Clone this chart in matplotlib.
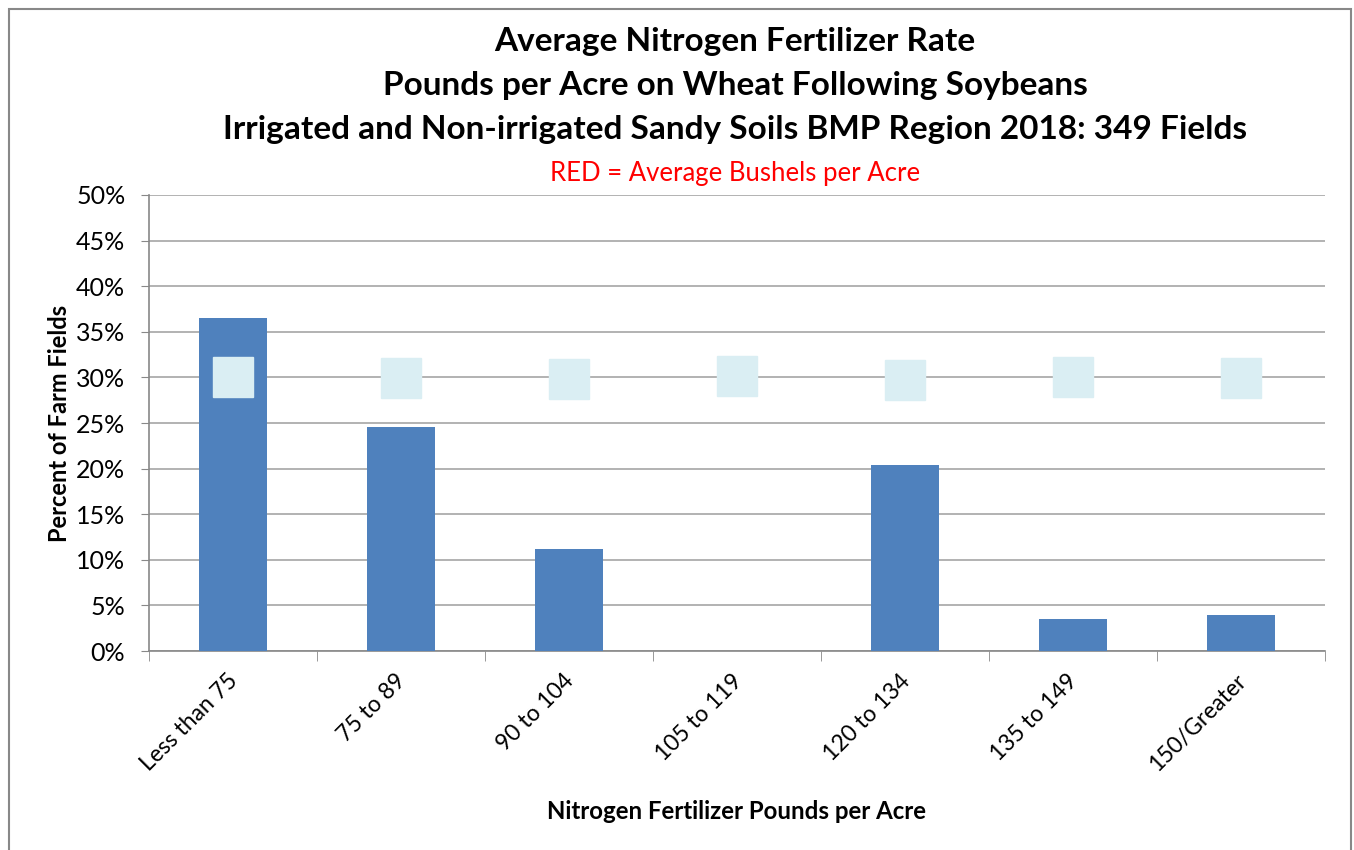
import matplotlib
matplotlib.use("Agg")
import matplotlib.pyplot as plt
from matplotlib.ticker import FixedLocator, PercentFormatter
from matplotlib.patches import Rectangle
from matplotlib.transforms import ScaledTranslation

categories = ["Less than 75", "75 to 89", "90 to 104", "105 to 119",
              "120 to 134", "135 to 149", "150/Greater"]
pct_fields = [36.5, 24.6, 11.2, 0.0, 20.4, 3.5, 4.0]
# light-blue label boxes (bushel labels, text not legible in the source)
box_level = [30.0, 29.9, 29.8, 30.1, 29.7, 30.0, 29.9]
y_ticks = [0, 5, 10, 15, 20, 25, 30, 35, 40, 45, 50]

plt.rcParams["font.family"] = ["Lato", "DejaVu Sans"]

fig = plt.figure(figsize=(13.54, 8.5), dpi=100)
ax = fig.add_axes([0.110, 0.2341, 0.8686, 0.5365])

x = list(range(len(categories)))
ax.bar(x, pct_fields, width=0.4, color="#4F81BD", zorder=3)
ax.plot(x, box_level, linestyle="none", marker="s", markersize=29,
        markerfacecolor="#DAEEF3", markeredgecolor="#DAEEF3", zorder=4)

ax.set_xlim(-0.5, len(categories) - 0.5)
ax.set_ylim(0, 50)
ax.set_yticks(y_ticks)
ax.yaxis.set_major_formatter(PercentFormatter(decimals=0))
ax.set_xticks(x)
ax.set_xticklabels(categories, rotation=45, ha="right", rotation_mode="anchor",
                   fontsize=16.5)
ax.xaxis.set_minor_locator(FixedLocator([i - 0.5 for i in range(len(categories) + 1)]))
ax.tick_params(axis="x", which="major", length=0, pad=14)
ax.tick_params(axis="x", which="minor", length=7, color="#888888", direction="out")
ax.tick_params(axis="y", length=6, color="#888888", labelsize=18, pad=11)
# nudge the slanted labels left, as in the source
shift = ScaledTranslation(-0.06, 0, fig.dpi_scale_trans)
for lab in ax.get_xticklabels():
    lab.set_transform(lab.get_transform() + shift)
ax.grid(axis="y", color="#A6A6A6", linewidth=1.2, zorder=0)
for s in ["top", "right"]:
    ax.spines[s].set_visible(False)
for s in ["left", "bottom"]:
    ax.spines[s].set_color("#888888")
    ax.spines[s].set_linewidth(1.2)

ax.set_ylabel("Percent of Farm Fields", fontsize=17, fontweight="bold")
ax.yaxis.set_label_coords(-0.066, 0.5)
ax.set_xlabel("Nitrogen Fertilizer Pounds per Acre", fontsize=17.3,
              fontweight="bold", labelpad=18)

title_lines = ["Average Nitrogen Fertilizer Rate",
               "Pounds per Acre on Wheat Following Soybeans",
               "Irrigated and Non-irrigated Sandy Soils BMP Region 2018: 349 Fields"]
for i, line in enumerate(title_lines):
    fig.text(735 / 1354, 1 - (42 + 44 * i) / 850, line, ha="center", va="center",
             fontsize=24, fontweight="bold")
fig.text(735 / 1354, 1 - 173 / 850, "RED = Average Bushels per Acre", ha="center",
         va="center", fontsize=18.5, color="#FF0000")

fig.patches.append(Rectangle((9 / 1354, -0.01), 1342 / 1354, 1.01 - 9 / 850,
                             transform=fig.transFigure, fill=False,
                             edgecolor="#888888", linewidth=1.5))

fig.savefig("out.png", dpi=100)
